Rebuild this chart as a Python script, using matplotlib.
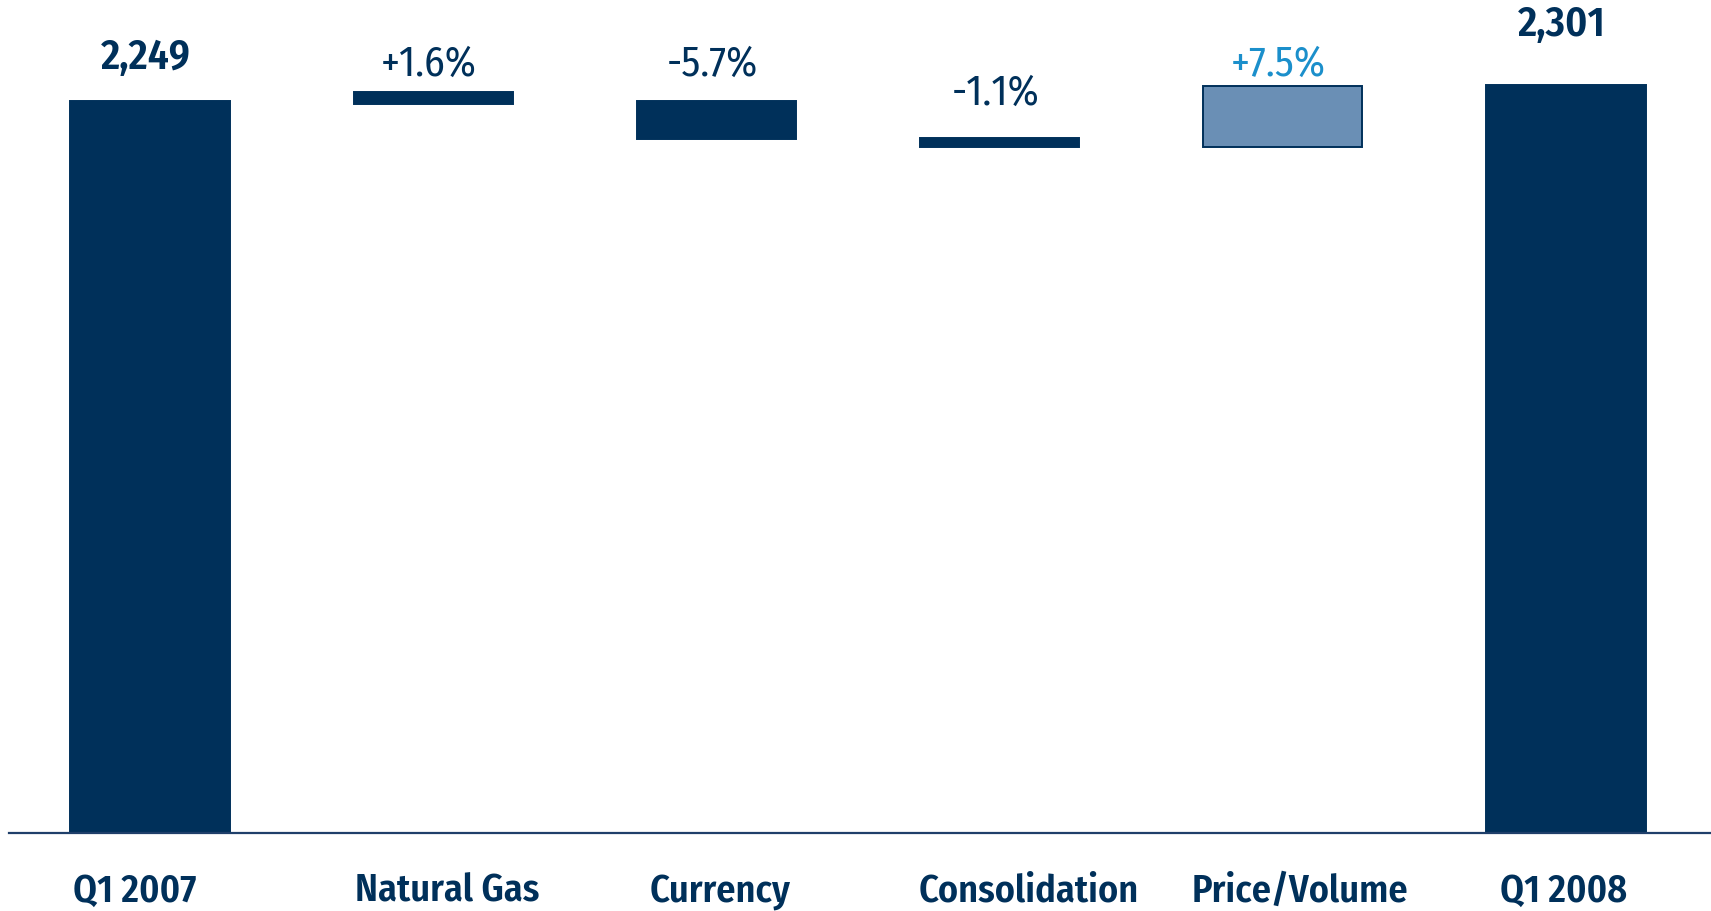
import matplotlib
matplotlib.use("Agg")
import matplotlib.pyplot as plt

# waterfall Q1 2007 -> Q1 2008
categories = ["Q1 2007", "Natural Gas", "Currency", "Consolidation", "Price/Volume", "Q1 2008"]
bar_bottom = [0, 2242, 2132, 2108, 2108, 0]
bar_top = [2249, 2279, 2249, 2138, 2296, 2301]
labels = ["2,249", "+1.6%", "-5.7%", "-1.1%", "+7.5%", "2,301"]

NAVY = "#00305a"
LIGHT = "#6a8fb5"
CYAN = "#1b8fcb"

plt.rcParams["font.family"] = ["Fira Sans Condensed", "DejaVu Sans"]

fig = plt.figure(figsize=(17.11, 9.12), dpi=100)
W, H = 1711, 912
ax = fig.add_axes([8.7 / W, 78.3 / H, 1 - 8.7 / W, 833.7 / H])

x = list(range(len(categories)))
heights = [t - b for t, b in zip(bar_top, bar_bottom)]
fills = [NAVY, NAVY, NAVY, NAVY, LIGHT, NAVY]
ax.bar(x, heights, bottom=bar_bottom, width=0.562, color=fills,
       edgecolor=NAVY, linewidth=1.4)

# label gaps above bar tops (points), not uniform on the slide
gaps = [24, 12, 19, 24, 8, 36]
weights = ["semibold", "normal", "normal", "normal", "normal", "semibold"]
colors = [NAVY, NAVY, NAVY, NAVY, CYAN, NAVY]
for i in x:
    ax.annotate(labels[i], (i, bar_top[i]), xytext=(-3, gaps[i]),
                textcoords="offset points", ha="center", va="baseline",
                fontsize=30, fontweight=weights[i], color=colors[i])

# category names sit a little off-centre on the slide
cat_shift = [-11, 10, 3, 21, 12, -2]
for i in x:
    ax.annotate(categories[i], (i, 0), xycoords=("data", "axes fraction"),
                xytext=(cat_shift[i], -49), textcoords="offset points",
                ha="center", va="baseline", fontsize=27.5,
                fontweight="semibold", color=NAVY, annotation_clip=False)

ax.set_xlim(-0.499, 5.512)
ax.set_ylim(0, 2564)
ax.set_xticks([])
ax.set_yticks([])
for s in ["top", "right", "left"]:
    ax.spines[s].set_visible(False)
ax.spines["bottom"].set_color("#1f3f6a")
ax.spines["bottom"].set_linewidth(1.6)

fig.savefig("out.png", dpi=100)
